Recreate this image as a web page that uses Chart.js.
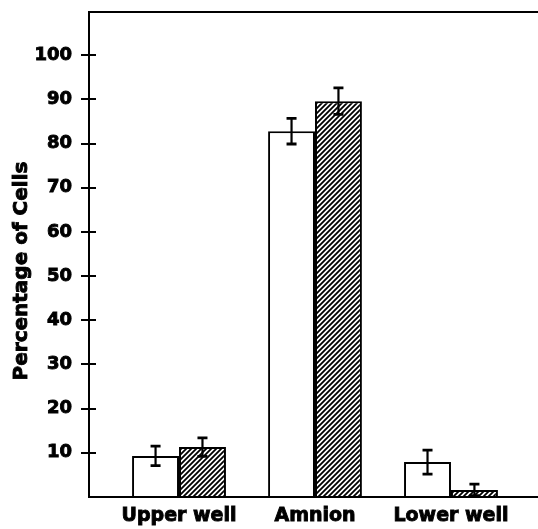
<!DOCTYPE html>
<html>
<head>
<meta charset="utf-8">
<script src="https://cdn.jsdelivr.net/npm/chart.js@4"></script>
<style>
  html, body { margin: 0; padding: 0; background: #fff; }
  canvas { display: block; }
</style>
</head>
<body>
<canvas id="cellsChart" width="538" height="529"></canvas>
<script>
var categories = ['Upper well', 'Amnion', 'Lower well'];
var openValues = [9.3, 82.8, 7.9];
var openErrors = [2.2, 2.9, 2.7];
var hatchedValues = [11.3, 89.6, 1.6];
var hatchedErrors = [2.1, 3.0, 1.3];
var yTickValues = [10, 20, 30, 40, 50, 60, 70, 80, 90, 100];
var yTitle = 'Percentage of Cells';

var FONT = "'DejaVu Sans', sans-serif";

// diagonal /// hatch for the second series
function makeHatch() {
    var p = 5;
    var c = document.createElement('canvas');
    c.width = p;
    c.height = p;
    var g = c.getContext('2d');
    g.fillStyle = '#fff';
    g.fillRect(0, 0, p, p);
    g.strokeStyle = '#000';
    g.lineWidth = 1.8;
    g.beginPath();
    g.moveTo(-1, p + 1); g.lineTo(p + 1, -1);
    g.moveTo(-1, 1); g.lineTo(1, -1);
    g.moveTo(p - 1, p + 1); g.lineTo(p + 1, p - 1);
    g.stroke();
    return g.createPattern(c, 'repeat');
}

function points(values) {
    return values.map(function (v, i) { return { x: i, y: v }; });
}

var errorBars = {
    id: 'errorBars',
    afterDatasetsDraw: function (chart) {
        var ctx = chart.ctx;
        var y = chart.scales.y;
        ctx.save();
        ctx.strokeStyle = '#000';
        chart.data.datasets.forEach(function (ds, di) {
            var meta = chart.getDatasetMeta(di);
            meta.data.forEach(function (bar, i) {
                var v = ds.data[i].y, e = ds.errors[i];
                var top = y.getPixelForValue(v + e);
                var bot = y.getPixelForValue(Math.max(v - e, 0));
                ctx.lineWidth = 2.2;
                ctx.beginPath();
                ctx.moveTo(bar.x, top);
                ctx.lineTo(bar.x, bot);
                ctx.stroke();
                ctx.lineWidth = 2.8;
                ctx.beginPath();
                ctx.moveTo(bar.x - 5, top);
                ctx.lineTo(bar.x + 5, top);
                ctx.moveTo(bar.x - 5, bot);
                ctx.lineTo(bar.x + 5, bot);
                ctx.stroke();
            });
        });
        ctx.restore();
    }
};

// axis lines, top rule, crossing ticks and the y title
var frame = {
    id: 'frame',
    afterDraw: function (chart) {
        var ctx = chart.ctx;
        var a = chart.chartArea;
        var y = chart.scales.y;
        ctx.save();
        ctx.strokeStyle = '#000';
        ctx.lineWidth = 2;
        ctx.beginPath();
        ctx.moveTo(a.left, a.top + 1);
        ctx.lineTo(chart.width, a.top + 1);
        ctx.moveTo(a.left, a.top);
        ctx.lineTo(a.left, a.bottom);
        ctx.moveTo(a.left - 1, a.bottom);
        ctx.lineTo(chart.width, a.bottom);
        yTickValues.forEach(function (t) {
            var py = Math.round(y.getPixelForValue(t));
            ctx.moveTo(a.left - 8, py);
            ctx.lineTo(a.left + 7, py);
        });
        ctx.stroke();

        ctx.translate(22, (a.top + a.bottom) / 2 + 17);
        ctx.rotate(-Math.PI / 2);
        ctx.fillStyle = '#000';
        ctx.font = 'bold 20px ' + FONT;
        ctx.textAlign = 'center';
        ctx.textBaseline = 'middle';
        ctx.lineWidth = 0.9;
        ctx.fillText(yTitle, 0, 0);
        ctx.strokeText(yTitle, 0, 0);
        ctx.restore();
    }
};

Chart.defaults.color = '#000';

var ctx = document.getElementById('cellsChart');
var myChart = new Chart(ctx, {
    type: 'bar',
    data: {
        datasets: [{
            label: 'Open',
            data: points(openValues),
            errors: openErrors,
            backgroundColor: '#fff',
            borderColor: '#000',
            borderWidth: 2
        }, {
            label: 'Hatched',
            data: points(hatchedValues),
            errors: hatchedErrors,
            backgroundColor: makeHatch(),
            borderColor: '#000',
            borderWidth: 2
        }]
    },
    options: {
        responsive: false,
        animation: false,
        categoryPercentage: 0.69,
        barPercentage: 1.0,
        layout: { padding: { top: 11, right: 0, left: 0, bottom: 0 } },
        plugins: {
            legend: { display: false },
            tooltip: { enabled: false }
        },
        scales: {
            x: {
                type: 'linear',
                offset: false,
                min: -0.662,
                max: 2.64,
                grid: { display: false, drawTicks: false, offset: false },
                border: { display: false },
                afterBuildTicks: function (scale) {
                    scale.ticks = categories.map(function (c, i) { return { value: i }; });
                },
                afterFit: function (scale) {
                    scale.height = 32;
                    scale.paddingLeft = 0;
                    scale.paddingRight = 0;
                },
                ticks: {
                    autoSkip: false,
                    maxRotation: 0,
                    padding: 8,
                    textStrokeColor: '#000',
                    textStrokeWidth: 0.9,
                    font: { family: FONT, size: 19, weight: 'bold' },
                    callback: function (v) { return categories[v]; }
                }
            },
            y: {
                min: 0,
                max: 110,
                grid: { display: false, drawTicks: false },
                border: { display: false },
                afterFit: function (scale) {
                    scale.width = 89;
                    scale.paddingTop = 0;
                    scale.paddingBottom = 0;
                },
                ticks: {
                    stepSize: 10,
                    padding: 17,
                    autoSkip: false,
                    textStrokeColor: '#000',
                    textStrokeWidth: 0.9,
                    font: { family: FONT, size: 18, weight: 'bold' },
                    callback: function (v) {
                        return yTickValues.indexOf(v) >= 0 ? v : '';
                    }
                }
            }
        }
    },
    plugins: [errorBars, frame]
});
</script>
</body>
</html>
